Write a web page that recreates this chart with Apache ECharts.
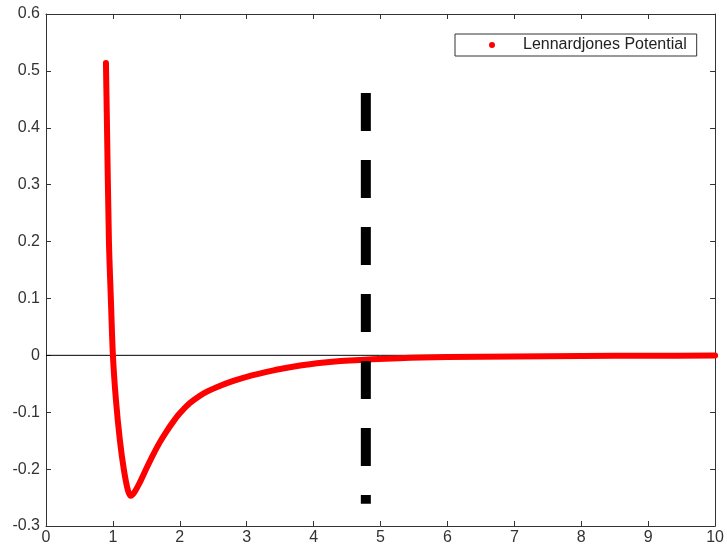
<!DOCTYPE html>
<html>
<head>
    <meta charset="UTF-8">
    <title>Lennard-Jones</title>
    <script src="https://cdn.jsdelivr.net/npm/echarts@6/dist/echarts.min.js"></script>
</head>
<body style="margin:0">
<div id="chartDom" style="width:727px;height:550px"></div>
<script type="text/javascript">
    // values
    var rValues = [0.896, 0.91, 0.94, 0.97, 1.0, 1.045, 1.104, 1.164, 1.224, 1.269, 1.32, 1.40, 1.50, 1.60, 1.70, 1.80, 1.90, 2.00, 2.15, 2.30, 2.42, 2.55, 2.80, 3.05, 3.30, 3.54, 4.05, 4.54, 5.28, 6.0, 7.0, 8.0, 9.0, 10.0];
    var potential = [0.514, 0.414, 0.203, 0.097, 0.0, -0.078, -0.149, -0.201, -0.237, -0.247, -0.241, -0.224, -0.199, -0.175, -0.153, -0.134, -0.117, -0.102, -0.084, -0.071, -0.063, -0.056, -0.045, -0.036, -0.029, -0.023, -0.014, -0.009, -0.005, -0.003, -0.002, -0.001, -0.0007, -0.0005];
    var cutoffX = 4.78;
    var cutoffY = [0.461, -0.261];
    var zeroX = [0, 10];
    var seriesName = 'Lennardjones Potential';

    var myChart = echarts.init(document.getElementById('chartDom'));

    var curve = rValues.map(function (r, i) { return [r, potential[i]]; });
    var cutoff = cutoffY.map(function (y) { return [cutoffX, y]; });
    var zero = zeroX.map(function (x) { return [x, 0]; });

    var axisCol = '#333';
    var lbl = { color: '#333', fontSize: 16, fontFamily: 'Liberation Sans, Arial' };

    function fmt(v) { return String(Number(v.toFixed(1))); }

    var option = {
        animation: false,
        backgroundColor: '#fff',
        grid: { left: 46, right: 10, top: 14, bottom: 24 },
        legend: {
            left: 455, top: 34,
            padding: [3, 10, 3, 34],
            borderColor: '#333', borderWidth: 1,
            backgroundColor: '#fff',
            itemWidth: 6, itemHeight: 6,
            textStyle: { color: '#222', fontSize: 16, fontFamily: 'Liberation Sans, Arial', padding: [0, 0, 0, 23] },
            data: [{ name: seriesName, icon: 'circle', itemStyle: { color: '#ff0000' } }]
        },
        xAxis: [{
            type: 'value', min: 0, max: 10, interval: 1,
            axisLine: { onZero: false, lineStyle: { color: axisCol } },
            axisTick: { inside: true, length: 5, lineStyle: { color: axisCol } },
            axisLabel: Object.assign({ margin: 4 }, lbl),
            splitLine: { show: false }
        }, {
            type: 'value', min: 0, max: 10, interval: 1, position: 'top',
            axisLine: { onZero: false, lineStyle: { color: axisCol } },
            axisTick: { inside: true, length: 5, lineStyle: { color: axisCol } },
            axisLabel: { show: false },
            splitLine: { show: false }
        }],
        yAxis: [{
            type: 'value', min: -0.3, max: 0.6, interval: 0.1,
            axisLine: { show: true, onZero: false, lineStyle: { color: axisCol } },
            axisTick: { show: true, inside: true, length: 5, lineStyle: { color: axisCol } },
            axisLabel: Object.assign({ margin: 6, formatter: fmt }, lbl),
            splitLine: { show: false }
        }, {
            type: 'value', min: -0.3, max: 0.6, interval: 0.1, position: 'right',
            axisLine: { show: true, onZero: false, lineStyle: { color: axisCol } },
            axisTick: { show: true, inside: true, length: 5, lineStyle: { color: axisCol } },
            axisLabel: { show: false },
            splitLine: { show: false }
        }],
        series: [{
            name: 'zero',
            type: 'line',
            data: zero,
            showSymbol: false,
            silent: true,
            lineStyle: { color: '#000', width: 1 },
            z: 1
        }, {
            name: seriesName,
            type: 'line',
            data: curve,
            smooth: 0.3,
            showSymbol: false,
            itemStyle: { color: '#ff0000' },
            lineStyle: { color: '#ff0000', width: 6, cap: 'round', join: 'round' },
            z: 2
        }, {
            name: 'cutoff',
            type: 'line',
            data: cutoff,
            showSymbol: false,
            silent: true,
            lineStyle: { color: '#000', width: 10, type: [38, 29], cap: 'butt' },
            z: 3
        }]
    };

    myChart.setOption(option);
</script>
</body>
</html>
